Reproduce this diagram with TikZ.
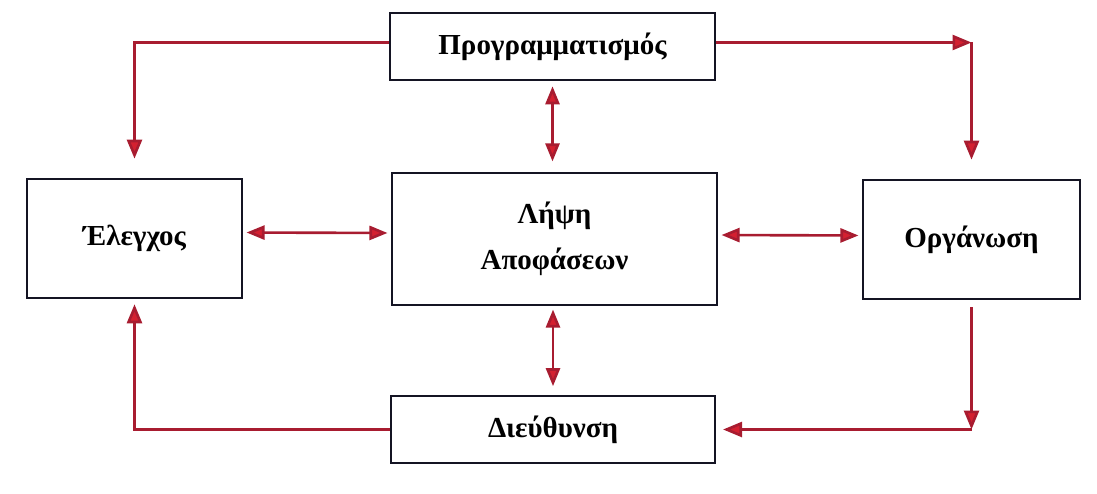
\documentclass[tikz,border=0pt]{standalone}
\usepackage{fontspec}
\setmainfont{Liberation Serif}
\usetikzlibrary{arrows.meta}
\definecolor{linkred}{RGB}{168,28,48}
\definecolor{tipred}{RGB}{212,32,48}
\definecolor{boxline}{RGB}{20,20,35}
\begin{document}
\begin{tikzpicture}[x=0.02cm,y=-0.02cm]
\tikzstyle{func} = [draw=boxline,line width=1.2pt,font=\bfseries\fontsize{16.5}{20}\selectfont,align=center,inner sep=0pt]
\tikzstyle{link} = [linkred,line width=1.5pt,-{Triangle[length=0.38cm,width=0.3cm,fill=tipred]}]
\tikzstyle{both} = [linkred,line width=1.5pt,{Triangle[length=0.36cm,width=0.28cm,fill=tipred]}-{Triangle[length=0.36cm,width=0.28cm,fill=tipred]}]
  %frame
  \useasboundingbox (0,0) rectangle (1097,493);
  %boxes
  \node[func,minimum width=6.5cm,minimum height=1.34cm] (prog) at (552.5,46.5) {Προγραμματισμός};
  \node[func,minimum width=6.5cm,minimum height=2.64cm] (lipsi) at (554.5,239) {Λήψη\\[6pt]Αποφάσεων};
  \node[func,minimum width=4.3cm,minimum height=2.38cm] (elegxos) at (134.5,238.5) {Έλεγχος};
  \node[func,minimum width=4.34cm,minimum height=2.38cm] (organ) at (971.5,239.5) {Οργάνωση};
  \node[func,minimum width=6.48cm,minimum height=1.34cm] (dieuth) at (553,429.5) {Διεύθυνση};
  %corners
  \coordinate (tr) at (prog.east -| organ.north);
  \coordinate (br) at (organ.south |- dieuth.east);
  %outer loop
  \draw[link,shorten >=11pt] ([yshift=0.08cm]prog.west) -| (elegxos.north);
  \draw[link] ([yshift=0.08cm]prog.east) -- ([yshift=0.08cm]tr);
  \draw[link,shorten >=11pt] ([yshift=0.08cm]tr) -- (organ.north);
  \draw[link,shorten <=4pt] (organ.south) -- (br);
  \draw[link,shorten >=4pt] (br) -- (dieuth.east);
  \draw[link,shorten >=3pt] (dieuth.west) -| (elegxos.south);
  %two way links
  \draw[both,shorten <=3pt,shorten >=6pt] (prog.south) -- (prog.south |- lipsi.north);
  \draw[both,shorten <=2pt,shorten >=5pt] (dieuth.north |- lipsi.south) -- (dieuth.north);
  \draw[both,shorten <=2pt,shorten >=2pt] ([yshift=0.12cm]elegxos.east) -- ([yshift=0.12cm]lipsi.west);
  \draw[both,shorten <=2pt,shorten >=2pt] ([yshift=0.08cm]lipsi.east) -- ([yshift=0.08cm]organ.west);
\end{tikzpicture}
\end{document}
